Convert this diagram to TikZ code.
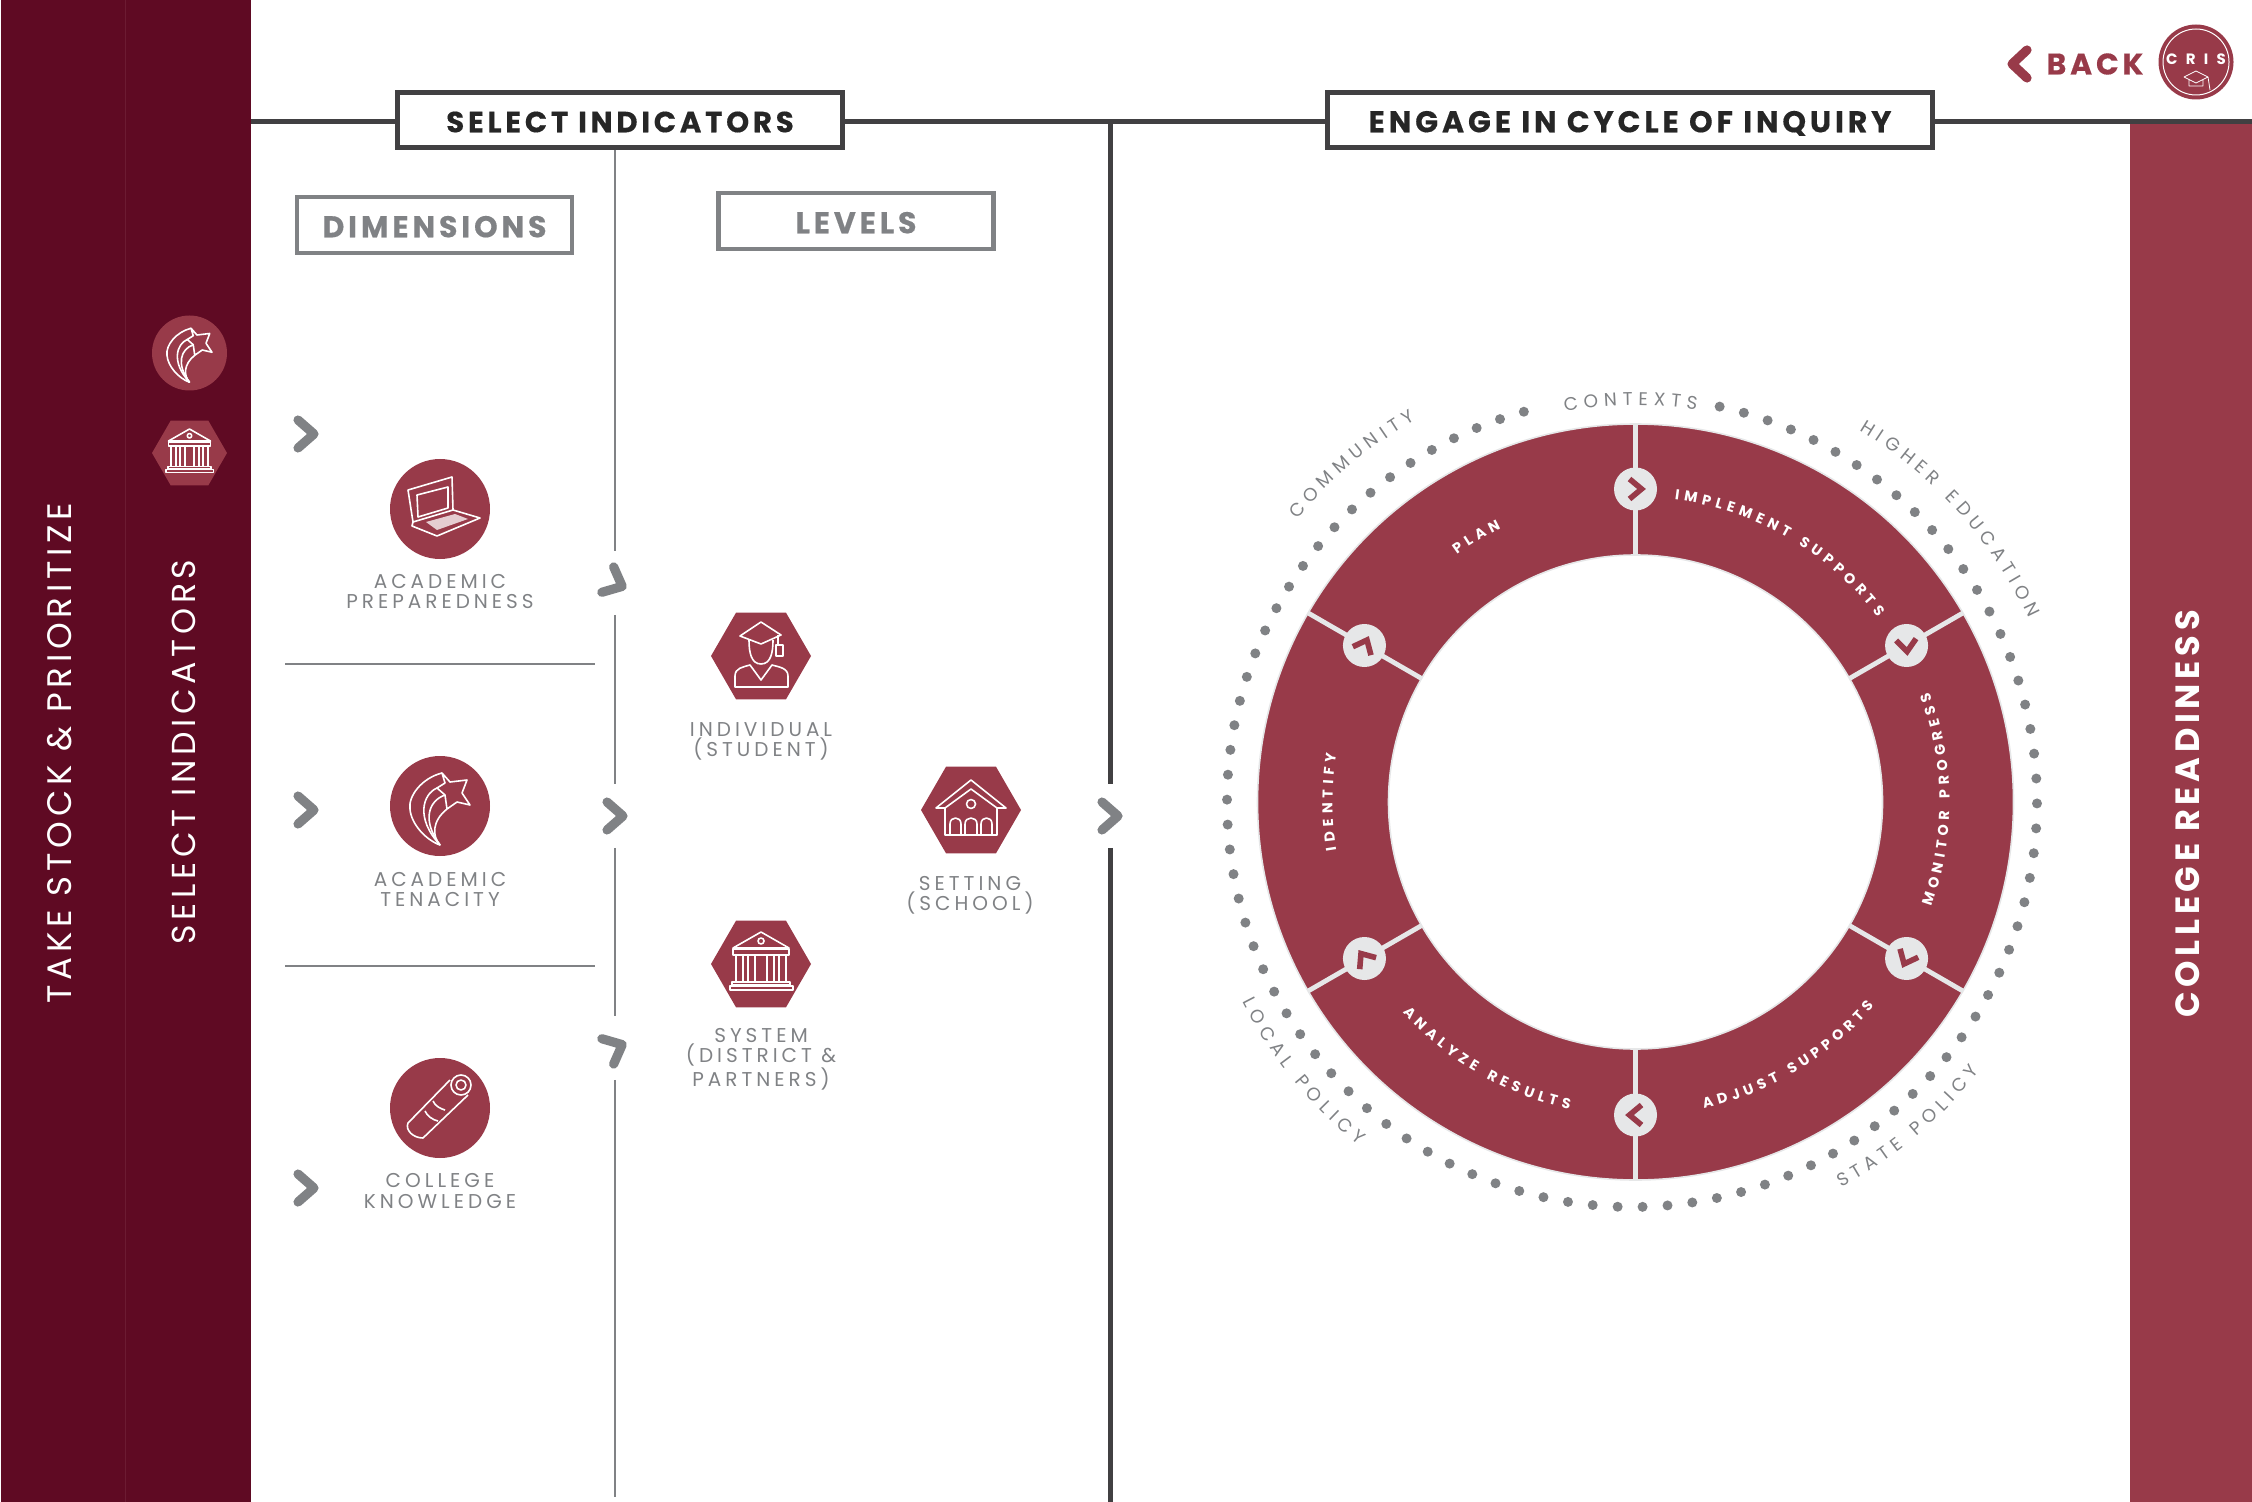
\documentclass[tikz,border=0pt]{standalone}
\usepackage{fontspec}
\usetikzlibrary{shapes.geometric,decorations.text}
\setmainfont{Poppins}
\newfontfamily\headfont[LetterSpace=13,BoldFeatures={FakeBold=0.4}]{Poppins}
\newfontfamily\labelfont[LetterSpace=20]{Poppins}
\newfontfamily\bandfont[LetterSpace=14]{Poppins}
\newfontfamily\crisfont[LetterSpace=55]{Poppins}
\definecolor{band_dark}{HTML}{5F0A23}
\definecolor{band_seam}{HTML}{6C1B32}
\definecolor{wine}{HTML}{983A49}
\definecolor{pale}{HTML}{E6E7E8}
\definecolor{line_dark}{HTML}{414042}
\definecolor{line_gray}{HTML}{808285}
\definecolor{text_gray}{HTML}{808285}
\tikzstyle{box_head} = [draw=line_dark, line width=2.5pt, fill=white, inner sep=0pt, minimum height=27.5pt, text height=12.3pt, text depth=0pt, font=\headfont\fontsize{14.6}{16}\selectfont\bfseries, text=black!85]
\tikzstyle{box_sub} = [draw=line_gray, line width=2.2pt, fill=white, inner sep=0pt, minimum width=137.5pt, minimum height=28pt, text height=12.3pt, text depth=0pt, font=\headfont\fontsize{15}{16}\selectfont\bfseries, text=line_gray]
\tikzstyle{edge_thick} = [draw=line_dark, line width=2.5pt]
\tikzstyle{edge_thin} = [draw=line_gray, line width=1pt]
\tikzstyle{dim_circle} = [circle, fill=wine, inner sep=0pt, minimum size=50pt]
\tikzstyle{lev_hex} = [regular polygon, regular polygon sides=6, fill=wine, inner sep=0pt, minimum size=50pt]
\tikzstyle{item_label} = [align=center, text=text_gray, inner sep=0pt, font=\labelfont\fontsize{10}{10}\selectfont]
\tikzstyle{band_label} = [rotate=90, text=white, inner sep=0pt, font=\bandfont\fontsize{17}{20}\selectfont]
\tikzstyle{chev_hold} = [circle, inner sep=0pt, minimum size=31.5pt]
\tikzstyle{chev_gray} = [draw=line_gray, line width=4.6pt, line cap=round, line join=round]
\tikzstyle{chev_wine} = [draw=wine, line width=2.8pt, line join=miter]
\tikzstyle{turn_circle} = [circle, fill=pale, inner sep=0pt, minimum size=21.5pt]
\tikzstyle{icon_line} = [draw=white, line width=0.8pt, line join=round]
\newcommand{\chevmark}[3]{\draw[#1,shift={(#2.center)},rotate=#3] (-8,-14)--(8,0)--(-8,14);}
\newcommand{\turnmark}[2]{\draw[chev_wine,shift={(#1.center)},rotate=#2] (-6,-10)--(6,0)--(-6,10);}
\newcommand{\ctxfmt}{\fontsize{9.2}{10}\selectfont}
\newcommand{\stepfmt}{\fontsize{7.2}{8}\selectfont\bfseries}
\newcommand{\ringtext}[7]{\path[decorate,decoration={text effects along path,text={#6},text align=center,text effects/.cd,text along path,character widths={inner xsep=#2,font=#1},characters={inner xsep=#2,font=#1,text=#7}}] (#4:#3) arc[start angle=#4,end angle=#5,radius=#3];}
% icons, drawn round the centre of their badge
\newcommand{\iconlaptop}{
\draw[icon_line] (-32,-19)--(12,-32)--(13,1)--(-27,13)--cycle;
\draw[icon_line] (-23,-14)--(8,-22)--(8,-1)--(-22,8)--cycle;
\draw[icon_line] (-27,13)--(-28,17)--(-3,27)--(40,9)--(13,1);
\fill[white,opacity=.75] (-14,13)--(15,5)--(28,10)--(-3,21)--cycle;
}
\newcommand{\iconstar}{
\draw[icon_line] (2,-33)--(10,-24)--(27,-26)--(22,-13)--(30,-1)--(17,-4)--(7,3)--(5,-11)--(-3,-18)--(5,-23)--cycle;
\draw[icon_line] (2,-33) .. controls (-18,-28) and (-32,-10) .. (-30,3) .. controls (-29,18) and (-14,34) .. (0,39) .. controls (-8,30) and (-8,15) .. (7,3);
\draw[icon_line] (-3,-18) .. controls (-17,-12) and (-25,12) .. (0,39);
\draw[icon_line] (5,-11) .. controls (-12,-5) and (-18,15) .. (0,39);
}
\newcommand{\iconroll}{
\draw[icon_line] (10,-28)--(-32,15) .. controls (-35,22) and (-27,30) .. (-17,30)--(28,-13);
\draw[icon_line] (21,-23) circle (10);
\draw[icon_line] (21,-23) circle (5);
\draw[icon_line] (-15,3) .. controls (-13,8) and (-7,12) .. (-2,13);
\draw[icon_line] (-7,-7) .. controls (-5,-2) and (1,1) .. (5,2);
}
\newcommand{\iconstudent}{
\draw[icon_line] (0,-34)--(-21,-20)--(0,-12)--(20,-21)--cycle;
\draw[icon_line] (-12,-16) .. controls (-12,-4) and (-10,8) .. (0,8) .. controls (10,8) and (12,-4) .. (12,-16);
\draw[icon_line] (17,-21)--(17,-10);
\draw[icon_line] (15,-11) rectangle (22,0);
\draw[icon_line] (-26,31)--(-26,20) .. controls (-26,12) and (-18,11) .. (-11,9)--(0,24)--(11,9) .. controls (18,11) and (27,12) .. (27,20)--(27,31)--cycle;
}
\newcommand{\iconbank}{
\draw[icon_line] (0,-32)--(-28,-16)--(28,-16)--cycle;
\draw[icon_line] (0,-23) circle (3);
\draw[icon_line] (-28,-15) rectangle (28,-9);
\draw[icon_line] (-25,-9) rectangle (-18,18);
\draw[icon_line] (-13,-9) rectangle (-6,18);
\draw[icon_line] (6,-9) rectangle (13,18);
\draw[icon_line] (18,-9) rectangle (25,18);
\draw[icon_line] (-29,18) rectangle (29,21);
\draw[icon_line] (-31,22) rectangle (32,26);
}
\newcommand{\iconschool}{
\draw[icon_line] (-35,-2)--(0,-30)--(35,-2)--(26,-2)--(0,-21)--(-26,-2)--cycle;
\draw[icon_line] (0,-6) circle (4.5);
\draw[icon_line] (-26,-2)--(-26,25)--(26,25)--(26,-2);
\draw[icon_line] (-21,25)--(-21,14) .. controls (-21,6) and (-10,6) .. (-10,14)--(-10,25);
\draw[icon_line] (-6,25)--(-6,14) .. controls (-6,6) and (6,6) .. (6,14)--(6,25);
\draw[icon_line] (10,25)--(10,14) .. controls (10,6) and (21,6) .. (21,14)--(21,25);
}

\begin{document}
\begin{tikzpicture}[x=0.5pt,y=-0.5pt]
\useasboundingbox (0,0) rectangle (2252,1502);
% side bands
\fill[band_dark] (1,0) rectangle (251,1502);
\draw[band_seam, line width=0.4pt] (125,0)--(125,1502);
\fill[wine] (2130,124) rectangle (2252,1502);
\node (band_take) at (60,753) [band_label] {TAKE STOCK \& PRIORITIZE};
\node (band_select) at (184,752) [band_label, font=\bandfont\fontsize{16.6}{20}\selectfont] {SELECT INDICATORS};
\node (band_ready) at (2188,814) [band_label, font=\bandfont\fontsize{16.8}{20}\selectfont\bfseries] {COLLEGE READINESS};
\node (band_star) at (189.5,353) [dim_circle, minimum size=37.5pt] {};
\node (band_bank) at (189.5,453) [lev_hex, minimum size=37.5pt] {};
\begin{scope}[shift={(band_star.center)},scale=.75] \iconstar \end{scope}
\begin{scope}[shift={(band_bank.center)},scale=.75] \iconbank \end{scope}
% headers
\coordinate (top_left) at (251,122);
\coordinate (top_right) at (2252,122);
\coordinate (inq_top) at (1110,122);
\coordinate (inq_end) at (1110,1502);
\coordinate (thin_end) at (615,1497);
\draw[edge_thick] (top_left)--(top_right);
\node (box_select) at (620,120) [box_head, minimum width=222.5pt] {SELECT INDICATORS};
\node (box_engage) at (1630,120) [box_head, minimum width=302.5pt, font=\headfont\fontsize{15}{16}\selectfont\bfseries] {ENGAGE IN CYCLE OF INQUIRY};
\node (box_dim) at (434.5,225) [box_sub] {DIMENSIONS};
\node (box_lev) at (856,221) [box_sub] {LEVELS};
% separators and arrows
\node (chev_dim_a) at (306,434) [chev_hold] {};
\node (chev_dim_b) at (306,810) [chev_hold] {};
\node (chev_dim_c) at (306,1188) [chev_hold] {};
\node (chev_lev_a) at (615,583) [chev_hold] {};
\node (chev_lev_b) at (615,816) [chev_hold] {};
\node (chev_lev_c) at (615,1048) [chev_hold] {};
\node (chev_inq) at (1110,816) [chev_hold] {};
\draw[edge_thin] (box_select.south -| chev_lev_a)--(chev_lev_a);
\draw[edge_thin] (chev_lev_a)--(chev_lev_b);
\draw[edge_thin] (chev_lev_b)--(chev_lev_c);
\draw[edge_thin] (chev_lev_c)--(thin_end);
\draw[edge_thick] (inq_top)--(chev_inq);
\draw[edge_thick] (chev_inq)--(inq_end);
\chevmark{chev_gray}{chev_dim_a}{0}
\chevmark{chev_gray}{chev_dim_b}{0}
\chevmark{chev_gray}{chev_dim_c}{0}
\chevmark{chev_gray,xshift=-1.5pt}{chev_lev_a}{-25}
\chevmark{chev_gray}{chev_lev_b}{0}
\chevmark{chev_gray,xshift=-1.5pt}{chev_lev_c}{25}
\chevmark{chev_gray,xshift=-3pt}{chev_inq}{0}
\coordinate (rule_a_l) at (285,664);
\coordinate (rule_a_r) at (595,664);
\coordinate (rule_b_l) at (285,966);
\coordinate (rule_b_r) at (595,966);
\draw[edge_thin] (rule_a_l)--(rule_a_r);
\draw[edge_thin] (rule_b_l)--(rule_b_r);
% dimensions
\node (dim_prep) at (440,509) [dim_circle] {};
\node (dim_ten) at (440,806) [dim_circle] {};
\node (dim_know) at (440,1108) [dim_circle] {};
\begin{scope}[shift={(dim_prep.center)}] \iconlaptop \end{scope}
\begin{scope}[shift={(dim_ten.center)}] \iconstar \end{scope}
\begin{scope}[shift={(dim_know.center)}] \iconroll \end{scope}
\node (lbl_prep) at (440,592) [item_label] {ACADEMIC\\PREPAREDNESS};
\node (lbl_ten) at (440,889) [item_label] {ACADEMIC\\TENACITY};
\node (lbl_know) at (440,1191) [item_label] {COLLEGE\\KNOWLEDGE};
% levels
\node (lev_ind) at (761,656) [lev_hex] {};
\node (lev_sys) at (761,964) [lev_hex] {};
\node (lev_set) at (971,810) [lev_hex] {};
\begin{scope}[shift={(lev_ind.center)}] \iconstudent \end{scope}
\begin{scope}[shift={(lev_sys.center)}] \iconbank \end{scope}
\begin{scope}[shift={(lev_set.center)}] \iconschool \end{scope}
\node (lbl_ind) at (761,741) [item_label] {INDIVIDUAL\\(STUDENT)};
\node (lbl_sys) at (761,1059.5) [item_label] {SYSTEM\\(DISTRICT \&\\PARTNERS)};
\node (lbl_set) at (970,895) [item_label] {SETTING\\(SCHOOL)};
% cycle
\begin{scope}[shift={(1635.5,802)}]
\draw[fill=wine, draw=pale, line width=0.8pt, even odd rule] (0,0) circle (378) (0,0) circle (247);
\foreach \a in {-90,-30,30,90,150,210} {
\draw[draw=pale, line width=2.4pt] (\a:247)--(\a:378);
}
\node (turn_a) at (-90:313) [turn_circle] {};
\node (turn_b) at (-30:313) [turn_circle] {};
\node (turn_c) at (30:313) [turn_circle] {};
\node (turn_d) at (90:313) [turn_circle] {};
\node (turn_e) at (150:313) [turn_circle] {};
\node (turn_f) at (210:313) [turn_circle] {};
\turnmark{turn_a}{0}
\turnmark{turn_b}{-85}
\turnmark{turn_c}{-115}
\turnmark{turn_d}{180}
\turnmark{turn_e}{125}
\turnmark{turn_f}{65}
\ringtext{\stepfmt}{1.2pt}{305}{-151}{-91}{PLAN}{white}
\ringtext{\stepfmt}{1.2pt}{305}{-90}{-30}{IMPLEMENT SUPPORTS}{white}
\ringtext{\stepfmt}{1.2pt}{314}{29.5}{-30.5}{MONITOR PROGRESS}{white}
\ringtext{\stepfmt}{1.2pt}{314}{89}{29}{ADJUST SUPPORTS}{white}
\ringtext{\stepfmt}{1.2pt}{314}{150}{90}{ANALYZE RESULTS}{white}
\ringtext{\stepfmt}{1.2pt}{303}{150}{210}{IDENTIFY}{white}
\foreach \i in {0,...,94} {
\fill[text_gray] (-3.5,0) ++(-77.5+\i*3.532:405) circle (5);
}
\ringtext{\ctxfmt}{1.4pt}{397}{-120.7}{-60.7}{CONTEXTS}{text_gray}
\ringtext{\ctxfmt}{1.4pt}{441}{-160}{-100}{COMMUNITY}{text_gray}
\ringtext{\ctxfmt}{1.4pt}{434}{-72}{-12}{HIGHER EDUCATION}{text_gray}
\ringtext{\ctxfmt}{1.4pt}{441}{171}{111}{LOCAL POLICY}{text_gray}
\ringtext{\ctxfmt}{1.4pt}{437}{80}{20}{STATE POLICY}{text_gray}
\end{scope}
% back link
\node (back_chev) at (2019,64) [inner sep=0pt, minimum size=10pt] {};
\draw[draw=wine, line width=4.6pt, line join=round, line cap=round, shift={(back_chev.center)}] (8,-14)--(-7,0)--(8,14);
\node (back_lbl) at (2095,64) [inner sep=0pt, text=wine, font=\headfont\fontsize{14.9}{18}\selectfont\bfseries] {BACK};
\node (cris) at (2196,62) [circle, fill=wine, inner sep=0pt, minimum size=37.5pt] {};
\draw[draw=white, line width=0.5pt] (cris.center) circle (33);
\node (cris_lbl) at (2196,59) [inner sep=0pt, text=white, font=\crisfont\fontsize{7.5}{9}\selectfont\bfseries] {CRIS};
\draw[icon_line, line width=0.4pt, shift={(cris.center)}] (0,9)--(-12,15)--(0,21)--(12,15)--cycle (-7,18)--(-7,24)--(7,24)--(7,18) (12,15)--(14,28);
\end{tikzpicture}
\end{document}
